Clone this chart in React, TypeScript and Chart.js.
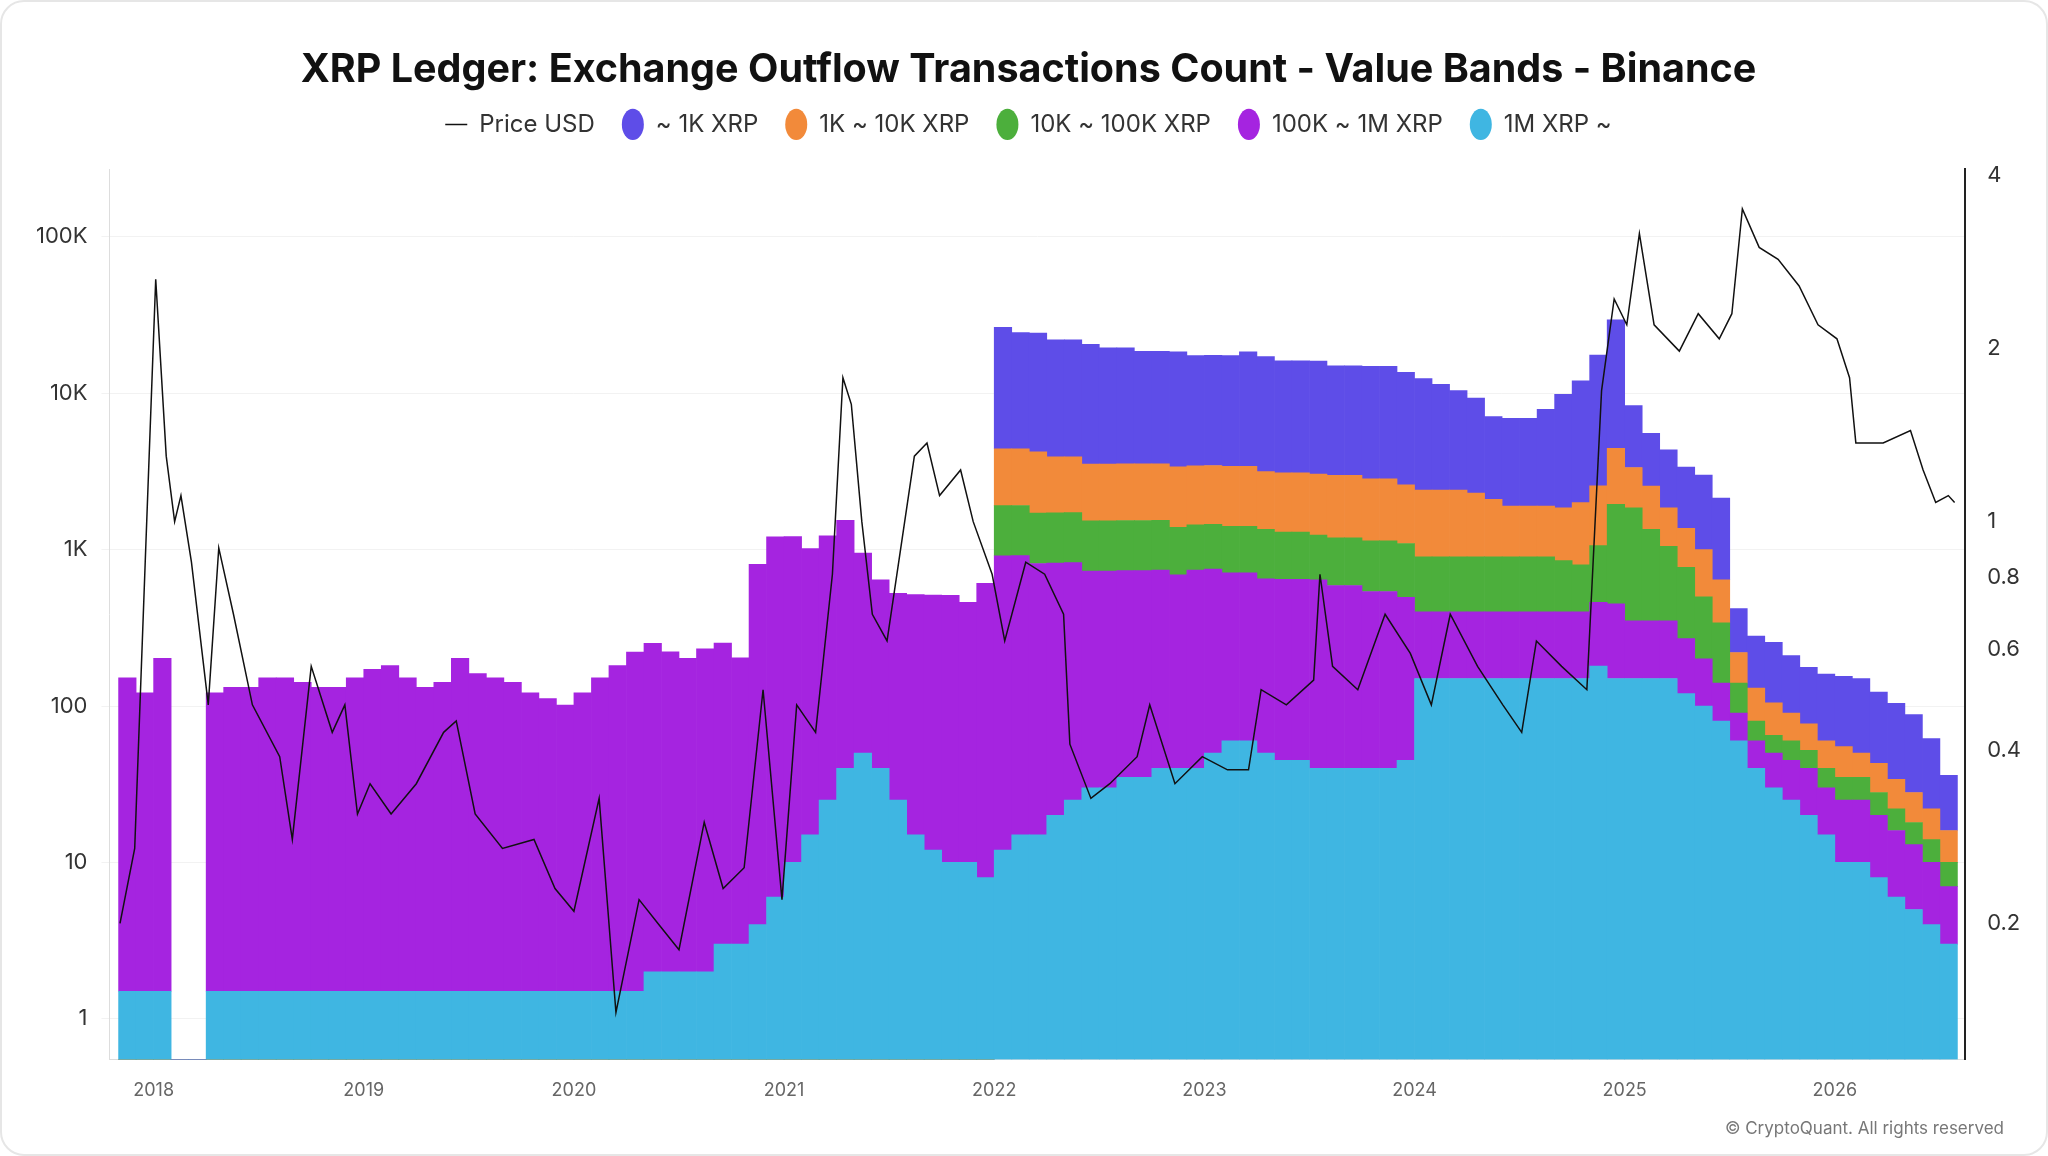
import React, { useEffect, useRef } from "react";
import { Chart, registerables } from "chart.js";
Chart.register(...registerables);

// Monthly buckets starting Nov 2017 (index 0) through Jul 2026
const START_YEAR = 2017;
const START_MONTH = 10; // 0-based: November
const band1M = [1.5, 1.5,
  1.5, 0, 0, 1.5, 1.5, 1.5, 1.5, 1.5, 1.5, 1.5, 1.5, 1.5,
  1.5, 1.5, 1.5, 1.5, 1.5, 1.5, 1.5, 1.5, 1.5, 1.5, 1.5, 1.5,
  1.5, 1.5, 1.5, 1.5, 2, 2, 2, 2, 3, 3, 4, 6,
  10, 15, 25, 40, 50, 40, 25, 15, 12, 10, 10, 8,
  12, 15, 15, 20, 25, 30, 30, 35, 35, 40, 40, 40,
  50, 60, 60, 50, 45, 45, 40, 40, 40, 40, 40, 45,
  150, 150, 150, 150, 150, 150, 150, 150, 150, 150, 180, 150,
  150, 150, 150, 120, 100, 80, 60, 40, 30, 25, 20, 15,
  10, 10, 8, 6, 5, 4, 3];
const band100K = [150, 120,
  200, 0, 0, 120, 130, 130, 150, 150, 140, 130, 130, 150,
  170, 180, 150, 130, 140, 200, 160, 150, 140, 120, 110, 100,
  120, 150, 180, 220, 250, 220, 200, 230, 250, 200, 800, 1200,
  1200, 1000, 1200, 1500, 900, 600, 500, 500, 500, 500, 450, 600,
  900, 900, 800, 800, 800, 700, 700, 700, 700, 700, 650, 700,
  700, 650, 650, 600, 600, 600, 600, 550, 550, 500, 500, 450,
  250, 250, 250, 250, 250, 250, 250, 250, 250, 250, 280, 300,
  200, 200, 200, 150, 100, 60, 30, 20, 20, 20, 20, 15,
  15, 15, 12, 10, 8, 6, 4];
const band10K = [0, 0,
  0, 0, 0, 0, 0, 0, 0, 0, 0, 0, 0, 0,
  0, 0, 0, 0, 0, 0, 0, 0, 0, 0, 0, 0,
  0, 0, 0, 0, 0, 0, 0, 0, 0, 0, 0, 0,
  0, 0, 0, 0, 0, 0, 0, 0, 0, 0, 0, 0,
  1000, 1000, 900, 900, 900, 800, 800, 800, 800, 800, 700, 700,
  700, 700, 700, 700, 650, 650, 600, 600, 600, 600, 600, 600,
  500, 500, 500, 500, 500, 500, 500, 500, 450, 400, 600, 1500,
  1500, 1000, 700, 500, 300, 200, 50, 20, 15, 15, 12, 10,
  10, 10, 8, 6, 5, 4, 3];
const band1K = [0, 0,
  0, 0, 0, 0, 0, 0, 0, 0, 0, 0, 0, 0,
  0, 0, 0, 0, 0, 0, 0, 0, 0, 0, 0, 0,
  0, 0, 0, 0, 0, 0, 0, 0, 0, 0, 0, 0,
  0, 0, 0, 0, 0, 0, 0, 0, 0, 0, 0, 0,
  2500, 2500, 2500, 2200, 2200, 2000, 2000, 2000, 2000, 2000, 2000, 2000,
  2000, 2000, 2000, 1800, 1800, 1800, 1800, 1800, 1800, 1700, 1700, 1500,
  1500, 1500, 1500, 1400, 1200, 1000, 1000, 1000, 1000, 1200, 1500, 2500,
  1500, 1200, 800, 600, 500, 300, 80, 50, 40, 30, 25, 20,
  20, 15, 15, 12, 10, 8, 6];
const bandSmall = [0, 0,
  0, 0, 0, 0, 0, 0, 0, 0, 0, 0, 0, 0,
  0, 0, 0, 0, 0, 0, 0, 0, 0, 0, 0, 0,
  0, 0, 0, 0, 0, 0, 0, 0, 0, 0, 0, 0,
  0, 0, 0, 0, 0, 0, 0, 0, 0, 0, 0, 0,
  22000, 20000, 20000, 18000, 18000, 17000, 16000, 16000, 15000, 15000, 15000, 14000,
  14000, 14000, 15000, 14000, 13000, 13000, 13000, 12000, 12000, 12000, 12000, 11000,
  10000, 9000, 8000, 7000, 5000, 5000, 5000, 6000, 8000, 10000, 15000, 25000,
  5000, 3000, 2500, 2000, 2000, 1500, 200, 150, 150, 120, 100, 100,
  100, 100, 80, 70, 60, 40, 20];

const priceDates = [2017.84, 2017.91, 2017.96, 2018.01, 2018.06, 2018.10, 2018.13, 2018.18, 2018.26, 2018.31, 2018.38, 2018.47, 2018.60, 2018.66, 2018.75, 2018.85, 2018.91, 2018.97, 2019.03, 2019.13, 2019.25, 2019.38, 2019.44, 2019.53, 2019.66, 2019.81, 2019.91, 2020.00, 2020.12, 2020.20, 2020.31, 2020.40, 2020.50, 2020.62, 2020.71, 2020.81, 2020.90, 2020.99, 2021.06, 2021.15, 2021.23, 2021.28, 2021.32, 2021.37, 2021.42, 2021.49, 2021.62, 2021.68, 2021.74, 2021.84, 2021.90, 2021.99, 2022.05, 2022.15, 2022.24, 2022.33, 2022.36, 2022.46, 2022.55, 2022.68, 2022.74, 2022.86, 2022.99, 2023.11, 2023.21, 2023.27, 2023.39, 2023.52, 2023.55, 2023.61, 2023.73, 2023.86, 2023.98, 2024.08, 2024.17, 2024.30, 2024.42, 2024.51, 2024.58, 2024.70, 2024.82, 2024.89, 2024.95, 2025.01, 2025.07, 2025.14, 2025.26, 2025.35, 2025.45, 2025.51, 2025.56, 2025.64, 2025.73, 2025.83, 2025.92, 2026.01, 2026.07, 2026.10, 2026.23, 2026.36, 2026.42, 2026.48, 2026.54, 2026.57];
const priceValues = [0.20, 0.27, 0.85, 2.64, 1.30, 1.0, 1.11, 0.85, 0.48, 0.90, 0.69, 0.48, 0.39, 0.28, 0.56, 0.43, 0.48, 0.31, 0.35, 0.31, 0.35, 0.43, 0.45, 0.31, 0.27, 0.28, 0.23, 0.21, 0.33, 0.14, 0.22, 0.20, 0.18, 0.30, 0.23, 0.25, 0.51, 0.22, 0.48, 0.43, 0.81, 1.78, 1.60, 1.0, 0.69, 0.62, 1.30, 1.37, 1.11, 1.23, 1.0, 0.81, 0.62, 0.85, 0.81, 0.69, 0.41, 0.33, 0.35, 0.39, 0.48, 0.35, 0.39, 0.37, 0.37, 0.51, 0.48, 0.53, 0.81, 0.56, 0.51, 0.69, 0.59, 0.48, 0.69, 0.56, 0.48, 0.43, 0.62, 0.56, 0.51, 1.69, 2.44, 2.2, 3.17, 2.2, 1.98, 2.3, 2.08, 2.3, 3.5, 3.0, 2.86, 2.57, 2.2, 2.08, 1.78, 1.37, 1.37, 1.44, 1.23, 1.08, 1.11, 1.08];

const leftTicks = [1, 10, 100, 1000, 10000, 100000];
const rightTicks = [0.2, 0.4, 0.6, 0.8, 1, 2, 4];
const yearTicks = [2018, 2019, 2020, 2021, 2022, 2023, 2024, 2025, 2026];

const monthX = (i: number) => START_YEAR + (START_MONTH + i + 0.5) / 12;
const toPoints = (arr: number[]) => arr.map((v, i) => ({ x: monthX(i), y: v }));

const legendGap = {
  id: "legendGap",
  beforeInit(chart: any) {
    const orig = chart.legend.fit;
    chart.legend.fit = function () {
      orig.bind(this)();
      this.height += 23;
    };
  },
};

export default function App() {
  const ref = useRef<HTMLCanvasElement>(null);
  useEffect(() => {
    document.body.style.margin = "0";
    const font = "Inter, 'Noto Sans', sans-serif";
    const bar = (label: string, data: number[], color: string) => ({
      type: "bar" as const,
      label,
      data: toPoints(data),
      backgroundColor: color,
      borderWidth: 0,
      barPercentage: 1,
      categoryPercentage: 1,
      yAxisID: "y",
      order: 1,
      pointStyle: "circle",
    });
    const chart = new Chart(ref.current!, {
      type: "bar",
      plugins: [legendGap],
      data: {
        datasets: [
          bar("1M XRP ~", band1M, "#3fb6e2"),
          bar("100K ~ 1M XRP", band100K, "#a524e0"),
          bar("10K ~ 100K XRP", band10K, "#4caf3c"),
          bar("1K ~ 10K XRP", band1K, "#f28a3a"),
          bar("~ 1K XRP", bandSmall, "#5e4de8"),
          {
            type: "line" as const,
            label: "Price USD",
            data: priceDates.map((d, i) => ({ x: d, y: priceValues[i] })),
            borderColor: "#111",
            backgroundColor: "#111",
            borderWidth: 1.5,
            pointRadius: 0,
            tension: 0,
            yAxisID: "y1",
            order: 0,
            pointStyle: "line",
          } as any,
        ],
      },
      options: {
        animation: false,
        responsive: false,
        layout: { padding: { left: 20, right: 11, top: 20, bottom: 41 } },
        plugins: {
          tooltip: { enabled: false },
          title: {
            display: true,
            text: "XRP Ledger: Exchange Outflow Transactions Count - Value Bands - Binance",
            color: "#111",
            font: { family: font, size: 39.5, weight: "bold" },
            padding: { top: 24, bottom: -8 },
          },
          legend: {
            position: "top",
            labels: {
              usePointStyle: true,
              pointStyleWidth: 22,
              boxHeight: 22,
              color: "#333",
              padding: 27,
              font: { family: font, size: 24 },
              sort: (a: any, b: any) => b.datasetIndex - a.datasetIndex,
            },
          },
        },
        scales: {
          x: {
            type: "linear",
            stacked: true,
            min: 2017.79,
            max: 2026.62,
            offset: false,
            grid: { display: false },
            border: { color: "#ddd" },
            afterBuildTicks: (s: any) => { s.ticks = yearTicks.map((v) => ({ value: v })); },
            ticks: { color: "#666", font: { family: font, size: 18 }, callback: (v: any) => String(v), padding: 12 },
          },
          y: {
            type: "logarithmic",
            stacked: true,
            position: "left",
            min: 0.55,
            max: 270000,
            grid: { color: "#f2f2f2" },
            border: { color: "#ddd" },
            afterBuildTicks: (s: any) => { s.ticks = leftTicks.map((v) => ({ value: v })); },
            ticks: {
              color: "#333",
              font: { family: font, size: 22 },
              padding: 14,
              callback: (v: any) => (v >= 1000 ? v / 1000 + "K" : String(v)),
            },
          },
          y1: {
            type: "logarithmic",
            position: "right",
            min: 0.116,
            max: 4.1,
            grid: { display: false },
            border: { color: "#222", width: 2 },
            afterBuildTicks: (s: any) => { s.ticks = rightTicks.map((v) => ({ value: v })); },
            ticks: { color: "#333", font: { family: font, size: 22 }, padding: 14, callback: (v: any) => String(v) },
          },
        },
      } as any,
    });
    return () => chart.destroy();
  }, []);
  return (
    <div style={{ position: "relative", width: 2048, height: 1156, background: "#fff", boxSizing: "border-box", border: "2px solid #e6e6e6", borderRadius: 24, overflow: "hidden" }}>
      <canvas ref={ref} width={2044} height={1152} style={{ display: "block" }} />
      <div style={{ position: "absolute", right: 42, bottom: 16, fontFamily: "Inter, 'Noto Sans', sans-serif", fontSize: 17, color: "#777" }}>
        © CryptoQuant. All rights reserved
      </div>
    </div>
  );
}
